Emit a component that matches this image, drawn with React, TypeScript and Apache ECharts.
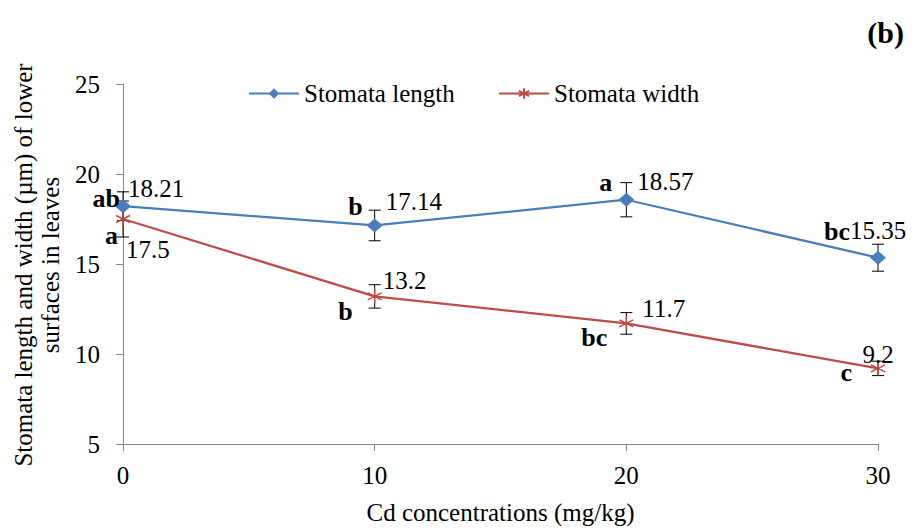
import React, { useEffect, useRef } from "react";
import * as echarts from "echarts";

const concentrations = [0, 10, 20, 30];
const lengthValues = [18.21, 17.14, 18.57, 15.35];
const widthValues = [17.5, 13.2, 11.7, 9.2];
const lengthErrors = [0.8, 0.85, 0.95, 0.75];
const widthErrors = [1.0, 0.65, 0.6, 0.4];
const lengthLetters = ["ab", "b", "a", "bc"];
const widthLetters = ["a", "b", "bc", "c"];
const lengthValueLabels = ["18.21", "17.14", "18.57", "15.35"];
const widthValueLabels = ["17.5", "13.2", "11.7", "9.2"];
const yTicks = { min: 5, max: 25, interval: 5 };
const xTicks = { min: 0, max: 30, interval: 10 };

// label placement styles (pixel offsets from the point)
const lengthValueOffsets = [[5, -18, "left"], [11, -24, "left"], [11, -18, "left"], [-28, -27, "left"]];
const widthValueOffsets = [[3, 30, "left"], [8, -16, "left"], [16, -15, "left"], [0, -14, "center"]];
const lengthLetterOffsets = [[-3, -8], [-12, -19], [-14, -17], [-28, -26]];
const widthLetterOffsets = [[-5, 16], [-22, 15], [-19, 14], [-26, 4]];

const FONT = '"Liberation Serif", "Times New Roman", serif';
const BLUE = "#4A7EBB";
const RED = "#BE4B48";
const STAR = "path://M0,-6L0,6M-5.2,-3L5.2,3M-5.2,3L5.2,-3";

function errorBarSeries(values: number[], errors: number[]) {
  return {
    type: "custom",
    z: 1,
    silent: true,
    data: concentrations.map((c, i) => [c, values[i], errors[i]]),
    encode: { x: 0, y: 1 },
    renderItem: (params: any, api: any) => {
      const x = api.value(0);
      const v = api.value(1);
      const e = api.value(2);
      const top = api.coord([x, v + e]);
      const bot = api.coord([x, v - e]);
      const cap = 6;
      const st = { stroke: "#000", lineWidth: 1 };
      return {
        type: "group",
        children: [
          { type: "line", shape: { x1: top[0], y1: top[1], x2: bot[0], y2: bot[1] }, style: st },
          { type: "line", shape: { x1: top[0] - cap, y1: top[1], x2: top[0] + cap, y2: top[1] }, style: st },
          { type: "line", shape: { x1: bot[0] - cap, y1: bot[1], x2: bot[0] + cap, y2: bot[1] }, style: st },
        ],
      };
    },
  };
}

function labelSeries(values: number[], texts: string[], offsets: any[], bold: boolean) {
  return {
    type: "custom",
    z: 5,
    silent: true,
    data: concentrations.map((c, i) => [c, values[i], i]),
    encode: { x: 0, y: 1 },
    renderItem: (params: any, api: any) => {
      const i = api.value(2);
      const p = api.coord([api.value(0), api.value(1)]);
      const o = offsets[i];
      const align = bold ? "right" : o[2];
      return {
        type: "text",
        x: p[0] + o[0],
        y: p[1] + o[1],
        style: {
          text: texts[i],
          fill: "#000",
          font: bold ? `bold 26px ${FONT}` : `25px ${FONT}`,
          textAlign: align,
          align: align,
          textVerticalAlign: "middle",
          verticalAlign: "middle",
        },
      };
    },
  };
}

export default function App() {
  const ref = useRef<HTMLDivElement>(null);
  useEffect(() => {
    if (!ref.current) return;
    const chart = echarts.init(ref.current, null, { renderer: "svg" });
    const legendBase = {
      top: 76,
      itemWidth: 50,
      itemHeight: 13,
      itemGap: 0,
      textStyle: { fontFamily: FONT, fontSize: 25, color: "#000" },
    };
    chart.setOption({
      animation: false,
      backgroundColor: "#fff",
      grid: { left: 123, right: 36, top: 84, bottom: 82 },
      legend: [
        { ...legendBase, left: 243, data: ["Stomata length"] },
        { ...legendBase, left: 493, data: ["Stomata width"] },
      ],
      xAxis: {
        type: "value",
        min: xTicks.min,
        max: xTicks.max,
        interval: xTicks.interval,
        name: "Cd concentrations (mg/kg)",
        nameLocation: "middle",
        nameGap: 56,
        nameTextStyle: { fontFamily: FONT, fontSize: 25, color: "#000" },
        axisLine: { show: true, lineStyle: { color: "#888", width: 1 } },
        axisTick: { show: true, length: 7, lineStyle: { color: "#888" } },
        splitLine: { show: false },
        axisLabel: { fontFamily: FONT, fontSize: 25, color: "#000", margin: 19 },
      },
      yAxis: {
        type: "value",
        min: yTicks.min,
        max: yTicks.max,
        interval: yTicks.interval,
        axisLine: { show: true, lineStyle: { color: "#888", width: 1 } },
        axisTick: { show: true, length: 7, lineStyle: { color: "#888" } },
        splitLine: { show: false },
        axisLabel: { fontFamily: FONT, fontSize: 25, color: "#000", margin: 23 },
      },
      graphic: [
        {
          type: "text",
          x: 37,
          y: 265,
          rotation: Math.PI / 2,
          style: {
            text: "Stomata length and width (µm) of lower\nsurfaces in leaves",
            font: `25px ${FONT}`,
            fill: "#000",
            textAlign: "center",
            textVerticalAlign: "middle",
            lineHeight: 27,
          },
        },
        {
          type: "text",
          right: 10,
          top: 17,
          style: { text: "(b)", font: `bold 30px ${FONT}`, fill: "#000" },
        },
      ],
      series: [
        errorBarSeries(lengthValues, lengthErrors),
        errorBarSeries(widthValues, widthErrors),
        {
          name: "Stomata length",
          type: "line",
          z: 3,
          data: concentrations.map((c, i) => [c, lengthValues[i]]),
          symbol: "diamond",
          symbolSize: [16, 14],
          lineStyle: { color: BLUE, width: 2.25 },
          itemStyle: { color: BLUE },
        },
        {
          name: "Stomata width",
          type: "line",
          z: 3,
          data: concentrations.map((c, i) => [c, widthValues[i]]),
          symbol: STAR,
          symbolSize: 14,
          lineStyle: { color: RED, width: 2.25 },
          itemStyle: { color: RED, borderColor: RED, borderWidth: 1.5 },
        },
        labelSeries(lengthValues, lengthValueLabels, lengthValueOffsets, false),
        labelSeries(widthValues, widthValueLabels, widthValueOffsets, false),
        labelSeries(lengthValues, lengthLetters, lengthLetterOffsets, true),
        labelSeries(widthValues, widthLetters, widthLetterOffsets, true),
      ],
    });
    return () => chart.dispose();
  }, []);
  return (
    <div
      ref={ref}
      style={{ position: "absolute", left: 0, top: 0, width: 914, height: 530 }}
    />
  );
}
